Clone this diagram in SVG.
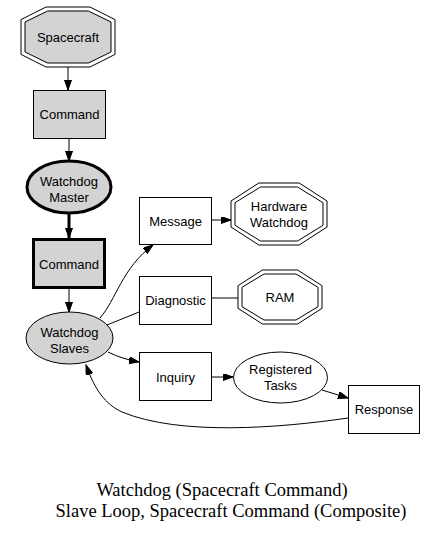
<svg xmlns="http://www.w3.org/2000/svg" width="439" height="533" viewBox="0 0 439 533">
<style>
.n{stroke:#000;stroke-width:1;fill:#fff}
.g{fill:#d3d3d3}
.b{stroke-width:3}
.t{font-family:"Liberation Sans",Arial,sans-serif;font-size:13px;text-anchor:middle;fill:#000}
.e{fill:none;stroke:#000;stroke-width:1}
.title{font-family:"Liberation Serif","Times New Roman",serif;font-size:18.5px;text-anchor:middle;fill:#000}
</style>
<defs>
<marker id="ah" markerUnits="userSpaceOnUse" markerWidth="11" markerHeight="8" refX="10" refY="3.5" orient="auto">
<path d="M0,0 L10,3.5 L0,7 z" fill="#000" stroke="#000" stroke-width="1"/>
</marker>
</defs>
<rect width="439" height="533" fill="#fff"/>
<g id="edges">
<path class="e" d="M68,67 L68,90" marker-end="url(#ah)"/>
<path class="e" d="M69,138 L69,161" marker-end="url(#ah)"/>
<path class="e" d="M69,213 L69,238" style="stroke-width:3" marker-end="url(#ah)"/>
<path class="e" d="M69,289 L69,312" marker-end="url(#ah)"/>
<path class="e" d="M100,318 C116,300 122,268 153,245" marker-end="url(#ah)"/>
<path class="e" d="M107,325 L139,312"/>
<path class="e" d="M108,352 C118,357 128,360 139,362" marker-end="url(#ah)"/>
<path class="e" d="M211,220 L231,220" marker-end="url(#ah)"/>
<path class="e" d="M211,298 L238,298"/>
<path class="e" d="M211,377 L233,377" marker-end="url(#ah)"/>
<path class="e" d="M322,390 L348,398" marker-end="url(#ah)"/>
<path class="e" d="M348,418 C280,428 180,436 122,412 C105,404 95,390 86,365" marker-end="url(#ah)"/>
</g>
<g id="spacecraft">
<polygon class="n" points="46,7 90,7 115,19.6 115,54.4 90,67 46,67 21,54.4 21,19.6"/>
<polygon class="n g" points="47.6,11 88.4,11 111,22 111,52 88.4,63 47.6,63 25,52 25,22"/>
<text class="t" x="68" y="41.5">Spacecraft</text>
</g>
<g id="command1">
<rect class="n g" x="33.5" y="90.5" width="72" height="48"/>
<text class="t" x="69.5" y="119">Command</text>
</g>
<g id="watchdog-master">
<ellipse class="n g b" cx="69" cy="187" rx="42" ry="26"/>
<text class="t" x="69" y="185.5">Watchdog</text>
<text class="t" x="69" y="201.5">Master</text>
</g>
<g id="command2">
<rect class="n g b" x="33.5" y="239.5" width="71" height="48"/>
<text class="t" x="69" y="268.5">Command</text>
</g>
<g id="watchdog-slaves">
<ellipse class="n g" cx="69.5" cy="338" rx="43.5" ry="26"/>
<text class="t" x="69.5" y="336.5">Watchdog</text>
<text class="t" x="69.5" y="352.5">Slaves</text>
</g>
<g id="message">
<rect class="n" x="139.5" y="197.5" width="72" height="47"/>
<text class="t" x="175.5" y="225.5">Message</text>
</g>
<g id="diagnostic">
<rect class="n" x="139.5" y="276.5" width="72" height="48"/>
<text class="t" x="175.5" y="305">Diagnostic</text>
</g>
<g id="inquiry">
<rect class="n" x="139.5" y="352.5" width="72" height="48"/>
<text class="t" x="175.5" y="381.5">Inquiry</text>
</g>
<g id="hardware-watchdog">
<polygon class="n" points="258.8,183 299.2,183 327,201 327,227 299.2,245 258.8,245 231,227 231,201"/>
<polygon class="n" points="260.5,187 297.5,187 323,202.7 323,225.3 297.5,241 260.5,241 235,225.3 235,202.7"/>
<text class="t" x="279" y="210.5">Hardware</text>
<text class="t" x="279" y="226.5">Watchdog</text>
</g>
<g id="ram">
<polygon class="n" points="262.4,270 297.6,270 322,285.7 322,308.3 297.6,324 262.4,324 238,308.3 238,285.7"/>
<polygon class="n" points="264,274 296,274 318,287.3 318,306.7 296,320 264,320 242,306.7 242,287.3"/>
<text class="t" x="280" y="301.5">RAM</text>
</g>
<g id="registered-tasks">
<ellipse class="n" cx="280.5" cy="377.5" rx="47" ry="25.5"/>
<text class="t" x="280.5" y="374">Registered</text>
<text class="t" x="280.5" y="390">Tasks</text>
</g>
<g id="response">
<rect class="n" x="348.5" y="385.5" width="71" height="48"/>
<text class="t" x="384" y="414">Response</text>
</g>
<text class="title" x="222" y="496">Watchdog (Spacecraft Command)</text>
<text class="title" x="231" y="517">Slave Loop, Spacecraft Command (Composite)</text>
</svg>
